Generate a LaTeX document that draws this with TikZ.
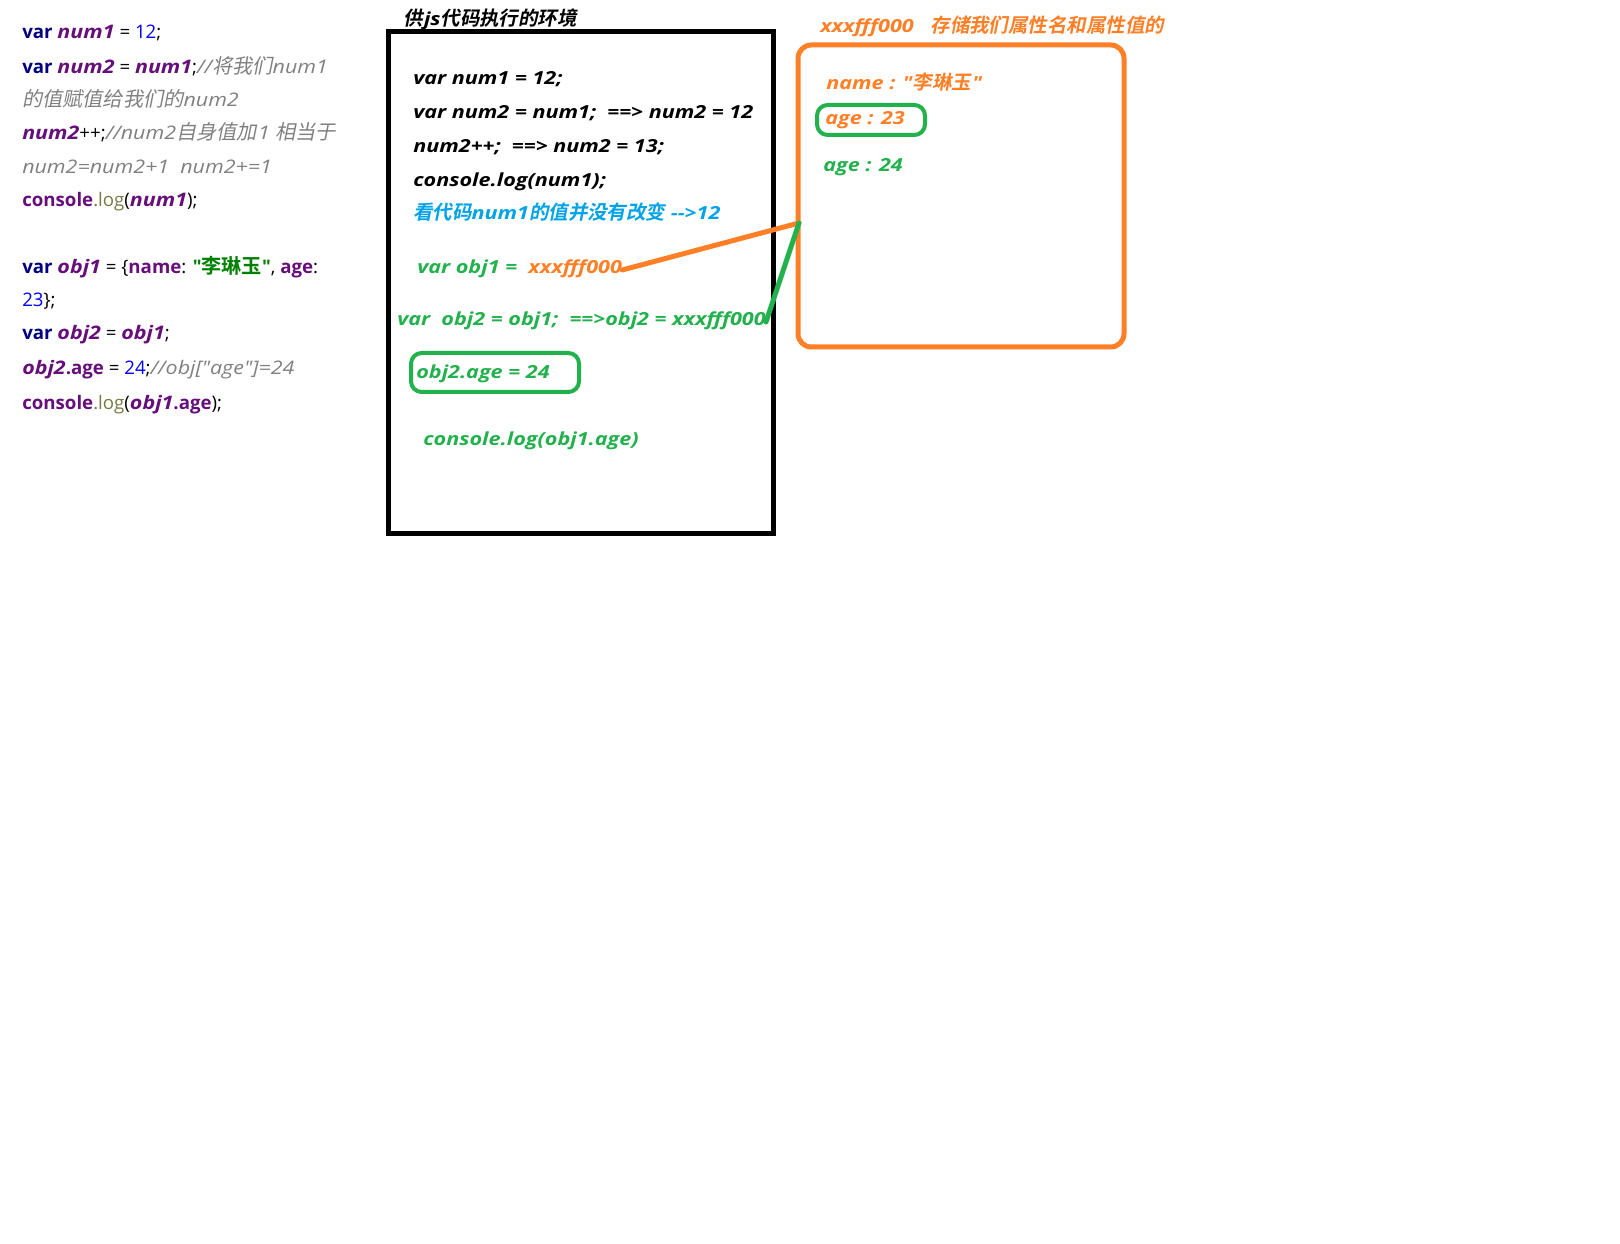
\documentclass[tikz,border=0pt]{standalone}
\usepackage{fontspec}
\newfontfamily\yahei{Open Sans}[ItalicFeatures={FakeStretch=1.15}, BoldItalicFeatures={FakeStretch=1.15}]
\newfontfamily\hand{Open Sans}[FakeStretch=1.2]
\newfontfamily\cjkfont{Noto Sans CJK SC}[Scale=1.08, ItalicFont={Noto Sans CJK SC}, ItalicFeatures={FakeSlant=0.2},
  BoldFont={Noto Sans CJK SC Bold}, BoldItalicFont={Noto Sans CJK SC Bold}, BoldItalicFeatures={FakeSlant=0.2}]
\newcommand{\zh}[1]{{\cjkfont #1}}
\definecolor{kwnavy}{HTML}{000080}
\definecolor{varpurple}{HTML}{660E7A}
\definecolor{numblue}{HTML}{0000FF}
\definecolor{cmtgray}{HTML}{808080}
\definecolor{strgreen}{HTML}{008000}
\definecolor{logolive}{HTML}{7A7A43}
\definecolor{paintorange}{HTML}{FF7F27}
\definecolor{paintgreen}{HTML}{22B14C}
\definecolor{paintblue}{HTML}{00A2E8}
% Colores del código
\newcommand{\jskw}[1]{\textcolor{kwnavy}{\bfseries #1}}
\newcommand{\jsvar}[1]{\textcolor{varpurple}{\bfseries\itshape #1}}
\newcommand{\jsprop}[1]{\textcolor{varpurple}{\bfseries #1}}
\newcommand{\jsnum}[1]{\textcolor{numblue}{#1}}
\newcommand{\jscmt}[1]{\textcolor{cmtgray}{\itshape #1}}
\newcommand{\jsstr}[1]{\textcolor{strgreen}{\bfseries #1}}
\newcommand{\jsfn}[1]{\textcolor{logolive}{#1}}

\begin{document}
\begin{tikzpicture}[x=0.75pt,y=-0.75pt,
% Estilo del código de la izquierda
codigo/.style={anchor=west, inner sep=0pt, yshift=-2.25pt, font=\yahei\fontsize{14}{16}\selectfont, text height=0.8em, text depth=0.2em},
% Estilo del texto a mano
mano/.style={anchor=west, inner sep=0pt, yshift=-2.25pt, font=\hand\fontsize{13.5}{16}\selectfont\bfseries\itshape, text height=0.8em, text depth=0.2em},
% Estilo de las cajas
pila/.style={draw=black, line width=3.75pt},
monton/.style={draw=paintorange, line width=3.75pt, rounded corners=10pt},
anillo/.style={draw=paintgreen, line width=3pt, rounded corners=8pt},
% Estilo de las líneas
linea/.style={line width=3.75pt, line cap=round},
]
\useasboundingbox (0,0) rectangle (1620,1244);

% Código
\node (c1) at (22,32) [codigo]{\jskw{var} \jsvar{num1} = \jsnum{12};};
\node (c2) at (22,67) [codigo]{\jskw{var} \jsvar{num2} = \jsvar{num1};\jscmt{//\zh{将我们}num1}};
\node (c3) at (22,100) [codigo]{\jscmt{\zh{的值赋值给我们的}num2}};
\node (c4) at (22,133) [codigo]{\jsvar{num2}++;\jscmt{//num2\zh{自身值加}\kern1pt 1 \zh{相当于}}};
\node (c5) at (22,167) [codigo]{\jscmt{num2=num2+1\ \ num2+=1}};
\node (c6) at (22,200) [codigo]{\jsprop{console}\jsfn{.log}(\jsvar{num1});};
\node (c7) at (22,267) [codigo]{\jskw{var} \jsvar{obj1} = \{\jsprop{name}: \jsstr{"\zh{李琳玉}"}, \jsprop{age}:};
\node (c8) at (22,300) [codigo]{\jsnum{23}\};};
\node (c9) at (22,333) [codigo]{\jskw{var} \jsvar{obj2} = \jsvar{obj1};};
\node (c10) at (22,367) [codigo]{\jsvar{obj2}\jsprop{.age} = \jsnum{24};\jscmt{//obj["age"]=24}};
\node (c11) at (22,402) [codigo]{\jsprop{console}\jsfn{.log}(\jsvar{obj1}\jsprop{.age});};

% Entorno de ejecución
\draw[pila] (388,32) rectangle (773,533);
\node (titulo) at (403,19) [mano]{\zh{供}\kern1pt js\zh{代码执行的环境}};
\node (e1) at (413,78) [mano]{var num1 = 12;};
\node (e2) at (413,112) [mano]{var num2 = num1;\ \ ==> num2 = 12};
\node (e3) at (413,146) [mano]{num2++;\ \ ==> num2 = 13;};
\node (e4) at (413,180) [mano]{console.log(num1);};
\node (e5) at (413,213) [mano, text=paintblue]{\zh{看代码}num1\zh{的值并没有改变} -->12};
\node (o1) at (417,267) [mano, text=paintgreen]{var obj1 =\ \ \textcolor{paintorange}{xxxfff000}};
\node (o2) at (397,319) [mano, text=paintgreen]{var\ \ obj2 = obj1;\ \ ==>obj2 = xxxfff000};
\draw[anillo] (411,353) rectangle (579,392);
\node (o3) at (416,371) [mano, text=paintgreen]{obj2.age = 24};
\node (o4) at (423,438) [mano, text=paintgreen]{console.log(obj1.age)};

% Memoria del objeto
\draw[monton] (798,45) rectangle (1124,347);
\node (dir) at (820,26) [mano, text=paintorange]{xxxfff000\ \ \ \zh{存储我们属性名和属性值的}};
\node (h1) at (826,83) [mano, text=paintorange]{name : "\zh{李琳玉}\kern1pt"};
\draw[anillo] (817,105) rectangle (925,135);
\node (h2) at (825,118) [mano, text=paintorange]{age : 23};
\node (h3) at (823,165) [mano, text=paintgreen]{age : 24};
\coordinate (heap) at (799,223);

% Líneas
\draw[linea, paintorange] (o1.east) -- (heap);
\draw[linea, paintgreen] (o2.east) -- (heap);
\end{tikzpicture}
\end{document}
